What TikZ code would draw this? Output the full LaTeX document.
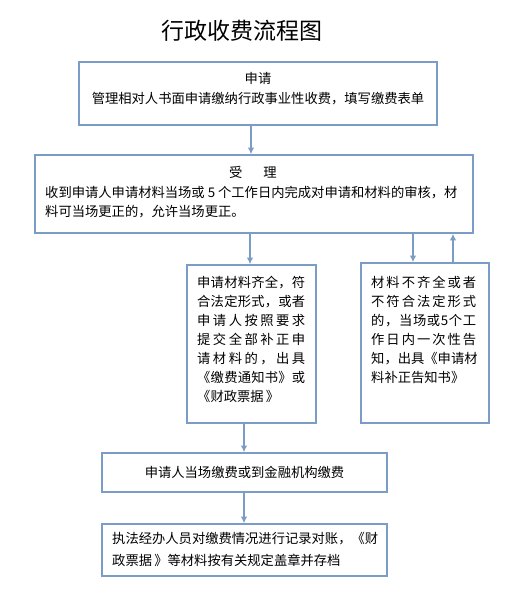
\documentclass[tikz,border=0pt]{standalone}
\usepackage{fontspec}
\setmainfont{Noto Sans CJK SC}
\usetikzlibrary{arrows.meta}
\definecolor{bord}{RGB}{122,156,198}
\tikzset{
  box/.style={draw=bord, line width=1.6pt, fill=white, inner sep=0pt},
  arr/.style={draw=bord, line width=1.3pt, -{Latex[length=6.5pt,width=6.5pt]}},
  txt/.style={inner sep=0pt, font=\fontsize{13.3pt}{19pt}\selectfont},
}
\newcommand\gp{\hfill\relax}
\begin{document}
\begin{tikzpicture}[x=1pt,y=-1pt]
\useasboundingbox[fill=white] (0,0) rectangle (510,611);
% title
\node[inner sep=0pt, font=\fontsize{23pt}{25pt}\selectfont] (title) at (242,31) {行政收费流程图};
% boxes
\node[box, minimum width=358pt, minimum height=63pt] (b1) at (258,93.5) {};
\node[box, minimum width=438pt, minimum height=78pt] (b2) at (254,194) {};
\node[box, minimum width=129pt, minimum height=158pt] (b3) at (251.5,344) {};
\node[box, minimum width=128pt, minimum height=160pt] (b4) at (425,343) {};
\node[box, minimum width=285pt, minimum height=39pt] (b5) at (244.5,472.5) {};
\node[box, minimum width=285pt, minimum height=52pt] (b6) at (244.5,550) {};
% texts
\node[txt, align=center, anchor=north, font=\fontsize{13.3pt}{20pt}\selectfont] (t1) at (258,72)
  {申请\\管理相对人书面申请缴纳行政事业性收费，填写缴费表单};
\node[txt] (t2a) at (253,172) {受\hspace{21pt}理};
\node[txt, align=left, anchor=north west] (t2b) at (45,186)
  {收到申请人申请材料当场或 5 个工作日内完成对申请和材料的审核，材\\料可当场更正的，允许当场更正。};
\node[txt, align=left, anchor=north west] (t3) at (197,276)
  {\makebox[108pt][s]{申\gp 请\gp 材\gp 料\gp 齐\gp 全\gp ，\gp 符}\\
   \makebox[108pt][s]{合\gp 法\gp 定\gp 形\gp 式\gp ，\gp 或\gp 者}\\
   \makebox[108pt][s]{申\gp 请\gp 人\gp 按\gp 照\gp 要\gp 求}\\
   \makebox[108pt][s]{提\gp 交\gp 全\gp 部\gp 补\gp 正\gp 申}\\
   \makebox[108pt][s]{请\gp 材\gp 料\gp 的\gp ，\gp 出\gp 具}\\
   \makebox[108pt][s]{《\gp 缴\gp 费\gp 通\gp 知\gp 书\gp 》\gp 或}\\
   《财政票据\,》};
\node[txt, align=left, anchor=north west] (t4) at (371,276)
  {\makebox[105pt][s]{材\gp 料\gp 不\gp 齐\gp 全\gp 或\gp 者}\\
   \makebox[105pt][s]{不\gp 符\gp 合\gp 法\gp 定\gp 形\gp 式}\\
   \makebox[105pt][s]{的\gp ，\gp 当\gp 场\gp 或\gp 5\gp 个\gp 工}\\
   \makebox[105pt][s]{作\gp 日\gp 内\gp 一\gp 次\gp 性\gp 告}\\
   \makebox[105pt][s]{知\gp ，\gp 出\gp 具\gp 《\gp 申\gp 请\gp 材}\\
   料补正告知书》};
\node[txt] (t5) at (244.5,472) {申请人当场缴费或到金融机构缴费};
\node[txt, align=left, anchor=north west, font=\fontsize{13.3pt}{22pt}\selectfont] (t6) at (112,532)
  {执法经办人员对缴费情况进行记录对账，《财\\
   政票据\,》等材料按有关规定盖章并存档};
% arrows
\coordinate (x251) at (251,0);
\coordinate (x250) at (250,0);
\coordinate (x413) at (413,0);
\coordinate (x453) at (453,0);
\coordinate (x244) at (244,0);
\draw[arr] (b1.south -| x251) -- (b2.north -| x251);
\draw[arr] (b2.south -| x250) -- (b3.north -| x250);
\draw[arr] (b2.south -| x413) -- (b4.north -| x413);
\draw[arr] (b4.north -| x453) -- (b2.south -| x453);
\draw[arr] (b3.south -| x244) -- (b5.north -| x244);
\draw[arr] (b5.south -| x244) -- (b6.north -| x244);
\end{tikzpicture}
\end{document}
